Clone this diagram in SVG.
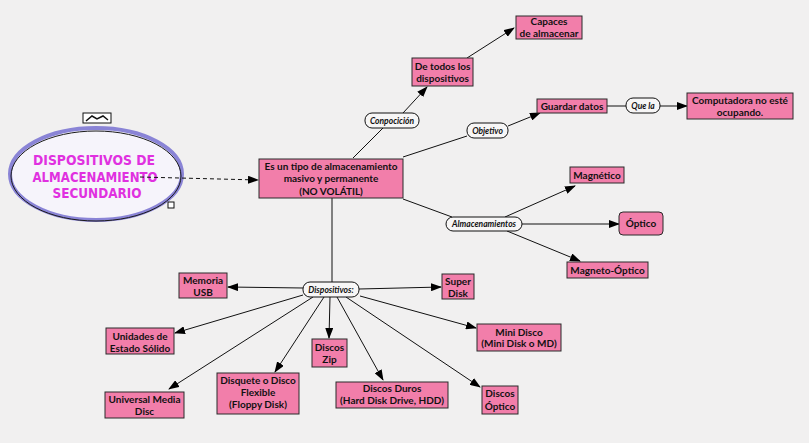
<svg xmlns="http://www.w3.org/2000/svg" width="809" height="443" viewBox="0 0 809 443">
<style>
.bg{fill:#f1f0f0}
.box{fill:#f27eaa;stroke:#2a2a2a;stroke-width:1}
.t{font-family:Lato,"Open Sans","Liberation Sans",sans-serif;font-weight:bold;font-size:10px;fill:#111;text-anchor:middle}
.lab{fill:#f7f6f6;stroke:#111;stroke-width:1}
.lt{font-family:Lato,"Open Sans","Liberation Sans",sans-serif;font-weight:bold;font-style:italic;font-size:8.5px;fill:#111;text-anchor:middle}
.c{stroke:#111;stroke-width:1;fill:none}
.a{marker-end:url(#ah)}
.title{font-family:"DejaVu Sans","Liberation Sans",sans-serif;font-weight:bold;font-size:14px;fill:#e030e0;text-anchor:middle}
</style>
<defs>
<marker id="ah" markerUnits="userSpaceOnUse" markerWidth="11" markerHeight="8" refX="10" refY="4" orient="auto">
<path d="M0,0 L11,4 L0,8 z" fill="#000"/>
</marker>
</defs>
<rect class="bg" x="0" y="0" width="809" height="443"/>

<g id="title-node">
<rect x="83" y="113" width="28" height="10" fill="#fff" stroke="#111" stroke-width="1"/>
<path d="M86,121 L92,116 L97,119 L103,116 L108,120" stroke="#111" stroke-width="1.5" fill="none"/>
<ellipse cx="96" cy="174" rx="86" ry="46" fill="#f6f4fb" stroke="#8a84d6" stroke-width="4"/>
<ellipse cx="96" cy="176" rx="85" ry="45" fill="none" stroke="#1a1a1a" stroke-width="1"/>
<text class="title" x="94" y="165" textLength="122" lengthAdjust="spacingAndGlyphs">DISPOSITIVOS DE</text>
<text class="title" x="95" y="182" textLength="125" lengthAdjust="spacingAndGlyphs">ALMACENAMIENTO</text>
<text class="title" x="97" y="198" textLength="89" lengthAdjust="spacingAndGlyphs">SECUNDARIO</text>
<rect x="168" y="202" width="6" height="6" fill="#fff" stroke="#111" stroke-width="1"/>
</g>

<g id="connectors">
<line class="c a" x1="140" y1="177" x2="258" y2="180" stroke-dasharray="4,3"/>
<line class="c" x1="353" y1="158" x2="383" y2="128"/>
<line class="c a" x1="403" y1="113" x2="427" y2="87"/>
<line class="c a" x1="467" y1="58" x2="514" y2="28"/>
<line class="c" x1="403" y1="157" x2="467" y2="136"/>
<line class="c a" x1="508" y1="126" x2="540" y2="113"/>
<line class="c" x1="607" y1="106" x2="626" y2="106"/>
<line class="c a" x1="660" y1="106" x2="687" y2="106"/>
<line class="c" x1="403" y1="199" x2="452" y2="217"/>
<line class="c a" x1="505" y1="217" x2="575" y2="186"/>
<line class="c a" x1="522" y1="224" x2="619" y2="224"/>
<line class="c a" x1="507" y1="231" x2="580" y2="261"/>
<line class="c" x1="332" y1="198" x2="332" y2="282"/>
<line class="c a" x1="303" y1="288" x2="228" y2="287"/>
<line class="c a" x1="303" y1="295" x2="175" y2="333"/>
<line class="c a" x1="313" y1="297" x2="169" y2="389"/>
<line class="c a" x1="324" y1="297" x2="275" y2="372"/>
<line class="c a" x1="330" y1="297" x2="329" y2="338"/>
<line class="c a" x1="337" y1="297" x2="383" y2="380"/>
<line class="c a" x1="359" y1="289" x2="441" y2="287"/>
<line class="c a" x1="360" y1="296" x2="476" y2="328"/>
<line class="c a" x1="346" y1="297" x2="480" y2="387"/>
</g>

<g id="lbl-conpocicion"><rect class="lab" x="365" y="113" width="54" height="15" rx="7"/><text class="lt" x="392" y="123.5">Conpocición</text></g>
<g id="lbl-objetivo"><rect class="lab" x="467" y="123" width="41" height="15" rx="7"/><text class="lt" x="487.5" y="133.5">Objetivo</text></g>
<g id="lbl-quela"><rect class="lab" x="626" y="98" width="34" height="15" rx="7"/><text class="lt" x="643" y="108.5">Que la</text></g>
<g id="lbl-almacenamientos"><rect class="lab" x="446" y="217" width="76" height="14" rx="7"/><text class="lt" x="484" y="227">Almacenamientos</text></g>
<g id="lbl-dispositivos"><rect class="lab" x="303" y="282" width="56" height="15" rx="7"/><text class="lt" x="331" y="292.5">Dispositivos:</text></g>

<g id="n-main"><rect class="box" x="259" y="159" width="144" height="39"/><text class="t" x="331" y="169.5">Es un tipo de almacenamiento</text><text class="t" x="331" y="182">masivo y permanente</text><text class="t" x="331" y="194.5">(NO VOLÁTIL)</text></g>
<g id="n-capaces"><rect class="box" x="516" y="16" width="66" height="23"/><text class="t" x="549" y="25">Capaces</text><text class="t" x="549" y="36.5">de almacenar</text></g>
<g id="n-detodos"><rect class="box" x="412" y="58" width="61" height="28"/><text class="t" x="442.5" y="69.5">De todos los</text><text class="t" x="442.5" y="82">dispositivos</text></g>
<g id="n-guardar"><rect class="box" x="537" y="99" width="70" height="14"/><text class="t" x="572" y="109.5">Guardar datos</text></g>
<g id="n-computadora"><rect class="box" x="687" y="93" width="106" height="26"/><text class="t" x="740" y="103.5">Computadora no esté</text><text class="t" x="740" y="116">ocupando.</text></g>
<g id="n-magnetico"><rect class="box" x="570" y="167" width="54" height="16"/><text class="t" x="597" y="178.5">Magnético</text></g>
<g id="n-optico"><rect class="box" x="619" y="212" width="44" height="23" rx="4"/><text class="t" x="641" y="227">Óptico</text></g>
<g id="n-magnetooptico"><rect class="box" x="567" y="262" width="81" height="16"/><text class="t" x="607.5" y="273.5">Magneto-Óptico</text></g>
<g id="n-usb"><rect class="box" x="179" y="273" width="48" height="25"/><text class="t" x="203" y="284">Memoria</text><text class="t" x="203" y="296">USB</text></g>
<g id="n-ssd"><rect class="box" x="106" y="328" width="68" height="26"/><text class="t" x="140" y="339.5">Unidades de</text><text class="t" x="140" y="351.5">Estado Sólido</text></g>
<g id="n-umd"><rect class="box" x="105" y="392" width="79" height="26"/><text class="t" x="144.5" y="402.5">Universal Media</text><text class="t" x="144.5" y="415">Disc</text></g>
<g id="n-disquete"><rect class="box" x="217" y="373" width="82" height="41"/><text class="t" x="258" y="383.5">Disquete o Disco</text><text class="t" x="258" y="395.5">Flexible</text><text class="t" x="258" y="408">(Floppy Disk)</text></g>
<g id="n-zip"><rect class="box" x="312" y="339" width="35" height="28"/><text class="t" x="329.5" y="350.5">Discos</text><text class="t" x="329.5" y="362.5">Zip</text></g>
<g id="n-duros"><rect class="box" x="336" y="382" width="112" height="26"/><text class="t" x="392" y="391.5">Discos Duros</text><text class="t" x="392" y="403.5">(Hard Disk Drive, HDD)</text></g>
<g id="n-superdisk"><rect class="box" x="442" y="274" width="32" height="25"/><text class="t" x="458" y="284.5">Super</text><text class="t" x="458" y="296.5">Disk</text></g>
<g id="n-minidisco"><rect class="box" x="477" y="324" width="84" height="27"/><text class="t" x="519" y="335.5">Mini Disco</text><text class="t" x="519" y="347">(Mini Disk o MD)</text></g>
<g id="n-discosoptico"><rect class="box" x="482" y="386" width="36" height="28"/><text class="t" x="500" y="397">Discos</text><text class="t" x="500" y="409.5">Óptico</text></g>
</svg>
